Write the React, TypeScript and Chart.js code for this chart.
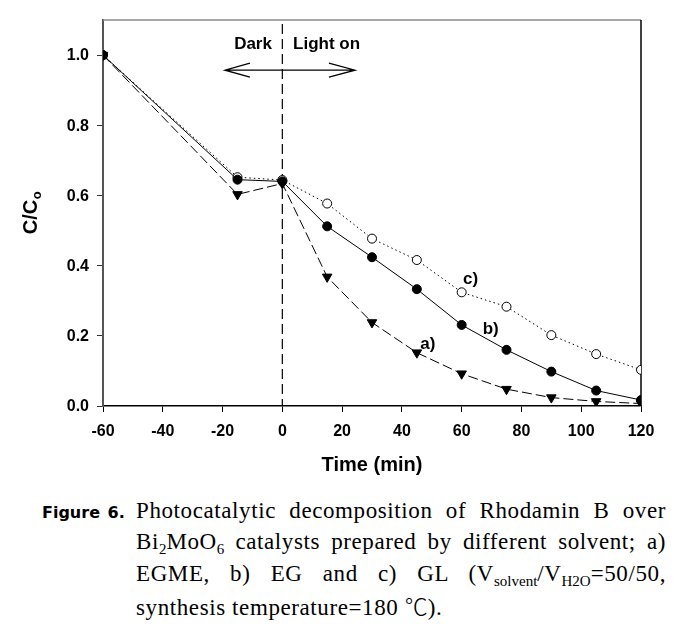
import React, { useEffect, useRef } from "react";
import { Chart, registerables } from "chart.js";

Chart.register(...registerables);

// ---- data ----
const times = [-60, -15, 0, 15, 30, 45, 60, 75, 90, 105, 120];
const seriesA = [1.0, 0.603, 0.634, 0.368, 0.238, 0.152, 0.092, 0.048, 0.024, 0.013, 0.007];
const seriesB = [1.0, 0.645, 0.64, 0.512, 0.424, 0.333, 0.231, 0.16, 0.098, 0.044, 0.017];
const seriesC = [1.0, 0.652, 0.644, 0.577, 0.477, 0.416, 0.324, 0.283, 0.202, 0.148, 0.103];
const seriesNames = ["a)", "b)", "c)"];
const seriesLabelX = [48.7, 69.7, 63.0];
const seriesLabelY = [0.176, 0.219, 0.361];
const xTicks = [-60, -40, -20, 0, 20, 40, 60, 80, 100, 120];
const yTicks = [0, 0.2, 0.4, 0.6, 0.8, 1.0];
const lightOnTime = 0;
const arrowFrom = -19.2;
const arrowTo = 24.3;
const arrowY = 0.957;
const phaseLabels = ["Dark", "Light on"];
const phaseLabelX = [-9.8, 14.8];
const phaseLabelY = 1.03;
const xTitle = "Time (min)";
const yTitleMain = "C/C";
const yTitleSub = "o";

const FONT = "'Liberation Sans', Arial, sans-serif";

const annotPlugin = {
  id: "annot",
  beforeDatasetsDraw(chart: any) {
    const { ctx, chartArea, scales } = chart;
    const x = scales.x;
    const y = scales.y;
    ctx.save();
    // frame top and right
    ctx.strokeStyle = "#888";
    ctx.lineWidth = 1.5;
    ctx.beginPath();
    ctx.moveTo(chartArea.left, chartArea.top);
    ctx.lineTo(chartArea.right, chartArea.top);
    ctx.stroke();
    ctx.strokeStyle = "#000";
    ctx.beginPath();
    ctx.moveTo(chartArea.right, chartArea.top);
    ctx.lineTo(chartArea.right, chartArea.bottom);
    ctx.stroke();
    // vertical dashed line
    const vx = x.getPixelForValue(lightOnTime);
    ctx.setLineDash([10, 5]);
    ctx.lineWidth = 1.2;
    ctx.strokeStyle = "#000";
    ctx.beginPath();
    ctx.moveTo(vx, chartArea.top + 4);
    ctx.lineTo(vx, chartArea.bottom);
    ctx.stroke();
    ctx.setLineDash([]);
    // arrow
    const ay = y.getPixelForValue(arrowY);
    const ax1 = x.getPixelForValue(arrowFrom);
    const ax2 = x.getPixelForValue(arrowTo);
    ctx.lineWidth = 1.3;
    ctx.beginPath();
    ctx.moveTo(ax1, ay);
    ctx.lineTo(ax2, ay);
    ctx.moveTo(ax1 + 25, ay - 7);
    ctx.lineTo(ax1, ay);
    ctx.lineTo(ax1 + 25, ay + 7);
    ctx.moveTo(ax2 - 26, ay - 7);
    ctx.lineTo(ax2, ay);
    ctx.lineTo(ax2 - 26, ay + 7);
    ctx.stroke();
    ctx.restore();
  },
  afterDatasetsDraw(chart: any) {
    const { ctx, chartArea, scales } = chart;
    const x = scales.x;
    const y = scales.y;
    ctx.save();
    ctx.fillStyle = "#000";
    // y tick labels
    ctx.textAlign = "right";
    ctx.textBaseline = "middle";
    ctx.font = `bold 16px ${FONT}`;
    yTicks.forEach((v) => {
      ctx.fillText(v.toFixed(1), chartArea.left - 14, y.getPixelForValue(v) + 1);
    });
    ctx.textAlign = "center";
    ctx.font = `bold 17px ${FONT}`;
    phaseLabels.forEach((t, i) => {
      ctx.fillText(t, x.getPixelForValue(phaseLabelX[i]), y.getPixelForValue(phaseLabelY));
    });
    seriesNames.forEach((t, i) => {
      ctx.fillText(t, x.getPixelForValue(seriesLabelX[i]), y.getPixelForValue(seriesLabelY[i]));
    });
    // x title
    ctx.font = `bold 20px ${FONT}`;
    ctx.fillText(xTitle, (chartArea.left + chartArea.right) / 2, 465);
    // y title
    ctx.translate(31, (chartArea.top + chartArea.bottom) / 2);
    ctx.rotate(-Math.PI / 2);
    ctx.font = `bold 20px ${FONT}`;
    const w1 = ctx.measureText(yTitleMain).width;
    ctx.font = `bold 13px ${FONT}`;
    const w2 = ctx.measureText(yTitleSub).width;
    const start = -(w1 + w2) / 2;
    ctx.textAlign = "left";
    ctx.font = `bold 20px ${FONT}`;
    ctx.fillText(yTitleMain, start, 0);
    ctx.font = `bold 13px ${FONT}`;
    ctx.fillText(yTitleSub, start + w1 + 0.5, 6);
    ctx.restore();
  },
};

export default function App() {
  const ref = useRef<HTMLCanvasElement | null>(null);
  useEffect(() => {
    if (!ref.current) return;
    const mk = (vals: number[]) => times.map((t, i) => ({ x: t, y: vals[i] }));
    const chart = new Chart(ref.current, {
      type: "line",
      data: {
        datasets: [
          {
            label: "a",
            data: mk(seriesA),
            borderColor: "#000",
            borderWidth: 1,
            borderDash: [10, 4],
            pointStyle: "triangle",
            rotation: 180,
            pointRadius: 5.5,
            pointBackgroundColor: "#000",
            pointBorderColor: "#000",
            pointBorderWidth: 1,
            tension: 0,
          } as any,
          {
            label: "b",
            data: mk(seriesB),
            borderColor: "#000",
            borderWidth: 1,
            pointStyle: "circle",
            pointRadius: 4.5,
            pointBackgroundColor: "#000",
            pointBorderColor: "#000",
            pointBorderWidth: 1,
            tension: 0,
          },
          {
            label: "c",
            data: mk(seriesC),
            borderColor: "#000",
            borderWidth: 1,
            borderDash: [1.5, 3],
            pointStyle: "circle",
            pointRadius: 4.5,
            pointBackgroundColor: "#fff",
            pointBorderColor: "#000",
            pointBorderWidth: 1,
            tension: 0,
          },
        ],
      },
      options: {
        animation: false,
        responsive: false,
        devicePixelRatio: 1,
        layout: { padding: { left: 0, right: 43, top: 20, bottom: 0 } },
        plugins: { legend: { display: false }, tooltip: { enabled: false } },
        scales: {
          x: {
            type: "linear",
            min: -60,
            max: 120,
            afterFit: (s: any) => {
              s.height = 74;
            },
            afterBuildTicks: (s: any) => {
              s.ticks = xTicks.map((v) => ({ value: v }));
            },
            ticks: {
              font: { family: FONT, size: 16, weight: "bold" },
              color: "#000",
              padding: 10,
              maxRotation: 0,
              callback: (v: any) => String(v),
            },
            grid: { drawOnChartArea: false, drawTicks: true, tickLength: 6, color: "#000", lineWidth: 1 },
            border: { display: true, color: "#000", width: 1.5 },
          },
          y: {
            type: "linear",
            min: 0,
            max: 1.1,
            afterFit: (s: any) => {
              s.width = 103;
            },
            afterBuildTicks: (s: any) => {
              s.ticks = yTicks.map((v) => ({ value: v }));
            },
            ticks: { display: false },
            grid: { drawOnChartArea: false, drawTicks: true, tickLength: 6, color: "#333", lineWidth: 1 },
            border: { display: true, color: "#555", width: 2 },
          },
        },
      },
      plugins: [annotPlugin],
    } as any);
    return () => chart.destroy();
  }, []);

  const serif = "'Liberation Serif', 'Times New Roman', serif";
  const lineStyle: React.CSSProperties = {
    width: 530,
    textAlign: "justify",
    textAlignLast: "justify" as any,
    fontFamily: serif,
    fontSize: 23,
    letterSpacing: 0.6,
    lineHeight: "29px",
    whiteSpace: "nowrap",
  };
  const sub: React.CSSProperties = { fontSize: 15, position: "relative", top: 5, verticalAlign: "baseline", letterSpacing: 0 };

  return (
    <div style={{ position: "absolute", left: 0, top: 0, width: 684, height: 627, background: "#fff" }}>
      <canvas ref={ref} width={684} height={480} style={{ display: "block", width: 684, height: 480 }} />
      <div style={{ position: "absolute", left: 42, top: 496, color: "#000" }}>
        <div style={{ display: "flex", alignItems: "baseline" }}>
          <div
            style={{
              width: 94,
              fontFamily: "'DejaVu Sans', sans-serif",
              fontWeight: "bold",
              fontSize: 16,
              wordSpacing: 2,
              lineHeight: "29px",
            }}
          >
            Figure 6.
          </div>
          <div style={lineStyle}>Photocatalytic decomposition of Rhodamin B over</div>
        </div>
        <div style={{ marginLeft: 94 }}>
          <div style={lineStyle}>
            Bi<span style={sub}>2</span>MoO<span style={sub}>6</span> catalysts prepared by different solvent; a)
          </div>
          <div style={lineStyle}>
            EGME, b) EG and c) GL (V<span style={sub}>solvent</span>/V<span style={sub}>H2O</span>=50/50,
          </div>
          <div style={{ ...lineStyle, textAlign: "left", textAlignLast: "left" as any }}>
            synthesis temperature=180{" "}
            <span style={{ fontFamily: "'Noto Sans CJK KR', sans-serif", fontWeight: 300, letterSpacing: 0 }}>℃</span>).
          </div>
        </div>
      </div>
    </div>
  );
}
